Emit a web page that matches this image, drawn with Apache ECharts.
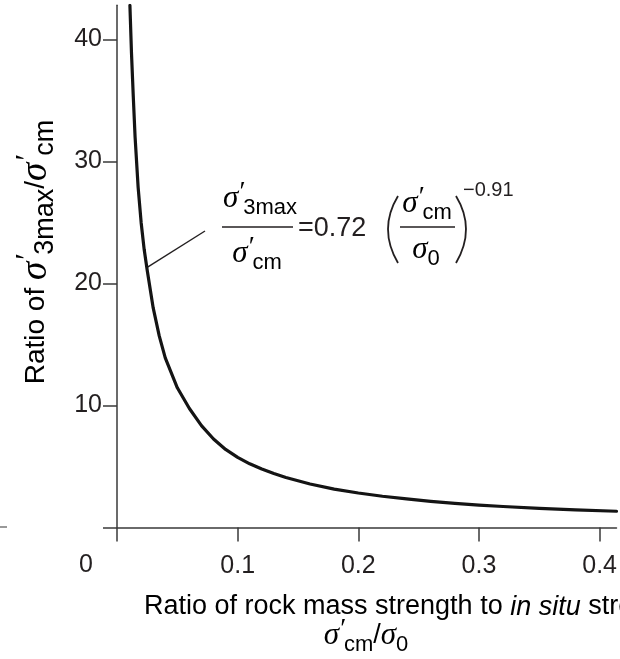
<!DOCTYPE html>
<html><head><meta charset="utf-8">
<script src="https://cdn.jsdelivr.net/npm/echarts@6/dist/echarts.min.js"></script>
<style>html,body{margin:0;padding:0;background:#fff}#c{width:620px;height:659px}</style>
</head><body><div id="c"></div>
<script>
// ---- data ----
const xValues = [0.0107, 0.012, 0.0135, 0.015, 0.0175, 0.02, 0.0225, 0.025, 0.03, 0.035, 0.04, 0.05, 0.06, 0.07, 0.08, 0.09, 0.10, 0.11, 0.12, 0.13, 0.14, 0.16, 0.18, 0.20, 0.22, 0.24, 0.26, 0.28, 0.30, 0.32, 0.35, 0.38, 0.414];
const yValues = [42.8, 38.9, 35.3, 32.0, 27.9, 25.0, 22.8, 21.1, 18.0, 15.7, 13.9, 11.45, 9.75, 8.35, 7.25, 6.40, 5.75, 5.22, 4.79, 4.42, 4.10, 3.57, 3.15, 2.83, 2.56, 2.34, 2.14, 1.97, 1.83, 1.72, 1.57, 1.45, 1.33];
const xTicks = [0, 0.1, 0.2, 0.3, 0.4];
const xTickLabels = [0.1, 0.2, 0.3, 0.4];
const yTicks = [0, 10, 20, 30, 40];
const yTickLabels = [10, 20, 30, 40];
const xMax = 0.414;
const yMax = 42.8;
const leaderPoint = [0.0247, 21.3];
const coefText = '=0.72';
const expText = '\u22120.91';

const SANS = '"Liberation Sans", Arial, Helvetica, sans-serif';
const SERIF = '"Liberation Serif", "DejaVu Serif", serif';
const INK = '#231f20';
const AX = '#3a3a3a';

const rich = {
  t: {fontFamily: SANS, fontSize: 27, color: INK, lineHeight: 40, verticalAlign: 'middle'},
  i: {fontFamily: SANS, fontSize: 27, color: INK, fontStyle: 'italic', lineHeight: 40, verticalAlign: 'middle'},
  s: {fontFamily: SERIF, fontSize: 31, color: INK, fontStyle: 'italic', lineHeight: 40, verticalAlign: 'middle'},
  p: {fontFamily: SERIF, fontSize: 28, color: INK, fontStyle: 'italic', lineHeight: 28, verticalAlign: 'top', width: 5},
  b: {fontFamily: SANS, fontSize: 22, color: INK, lineHeight: 27, verticalAlign: 'bottom'},
  // larger variants for the rotated y-axis title
  ys: {fontFamily: SERIF, fontSize: 37, color: INK, fontStyle: 'italic', lineHeight: 46, verticalAlign: 'middle'},
  yp: {fontFamily: SERIF, fontSize: 31, color: INK, fontStyle: 'italic', lineHeight: 31, verticalAlign: 'top', width: 7},
  yb: {fontFamily: SANS, fontSize: 27, color: INK, lineHeight: 31, verticalAlign: 'bottom'},
  yt: {fontFamily: SANS, fontSize: 28, color: INK, lineHeight: 46, verticalAlign: 'middle'}
};

const chart = echarts.init(document.getElementById('c'), null, {renderer: 'canvas'});
const data = xValues.map((x, k) => [x, yValues[k]]);

const option = {
  animation: false,
  backgroundColor: '#fff',
  grid: {left: 117, right: 0, top: 5.3, bottom: 131.5, containLabel: false},
  xAxis: {
    type: 'value', min: 0, max: xMax,
    splitLine: {show: false},
    axisLine: {show: true, onZero: false, lineStyle: {color: AX, width: 1.5}},
    axisTick: {show: true, inside: false, length: 14, customValues: xTicks, lineStyle: {color: AX, width: 1.5}},
    axisLabel: {customValues: xTickLabels, formatter: v => Number(v).toFixed(1), fontFamily: SANS, fontSize: 25, color: INK, margin: 26}
  },
  yAxis: {
    type: 'value', min: 0, max: yMax,
    splitLine: {show: false},
    axisLine: {show: true, onZero: false, lineStyle: {color: AX, width: 1.5}},
    axisTick: {show: true, inside: false, length: 14, customValues: yTicks, lineStyle: {color: AX, width: 1.5}},
    axisLabel: {customValues: yTickLabels, formatter: v => String(v), fontFamily: SANS, fontSize: 25, color: INK, margin: 15}
  },
  series: [{
    type: 'line', data: data, showSymbol: false, smooth: false, silent: true,
    lineStyle: {color: '#141414', width: 3.2, join: 'round', cap: 'round'}
  }]
};
chart.setOption(option);

const lp = chart.convertToPixel({gridIndex: 0}, leaderPoint);

chart.setOption({
  graphic: [
    // origin label
    {type: 'text', x: 86, y: 565, style: {text: '0', font: '25px ' + SANS, fill: INK, align: 'center', verticalAlign: 'middle'}},
    // y axis title
    {type: 'text', x: 36, y: 252, rotation: Math.PI / 2,
     style: {text: '{yt|Ratio of }{ys|σ}{yp|′}{yb|3max}{yt|/}{ys|σ}{yp|′}{yb|cm}', rich: rich, align: 'center', verticalAlign: 'middle'}},
    // x axis title
    {type: 'text', x: 144, y: 607,
     style: {text: '{t|Ratio of rock mass strength to }{i|in situ}{t| stress}', rich: rich, align: 'left', verticalAlign: 'middle'}},
    {type: 'text', x: 366, y: 636,
     style: {text: '{s|σ}{p|′}{b|cm}{t|/}{s|σ}{b|0}', rich: rich, align: 'center', verticalAlign: 'middle'}},
    // leader line
    {type: 'line', shape: {x1: lp[0], y1: lp[1], x2: 205, y2: 231}, style: {stroke: INK, lineWidth: 1.4}},
    // formula: left fraction
    {type: 'text', x: 260, y: 199, style: {text: '{s|σ}{p|′}{b|3max}', rich: rich, align: 'center', verticalAlign: 'middle'}},
    {type: 'line', shape: {x1: 222, y1: 227, x2: 293, y2: 227}, style: {stroke: INK, lineWidth: 1.5}},
    {type: 'text', x: 257, y: 254, style: {text: '{s|σ}{p|′}{b|cm}', rich: rich, align: 'center', verticalAlign: 'middle'}},
    {type: 'text', x: 298, y: 229, style: {text: coefText, font: '27px ' + SANS, fill: INK, align: 'left', verticalAlign: 'middle'}},
    // parentheses
    {type: 'bezierCurve', shape: {x1: 398, y1: 196, cpx1: 378, cpy1: 229, x2: 398, y2: 263}, style: {stroke: INK, lineWidth: 1.8, fill: null}},
    {type: 'bezierCurve', shape: {x1: 456, y1: 196, cpx1: 476, cpy1: 229, x2: 456, y2: 263}, style: {stroke: INK, lineWidth: 1.8, fill: null}},
    // inner fraction
    {type: 'text', x: 427, y: 204, style: {text: '{s|σ}{p|′}{b|cm}', rich: rich, align: 'center', verticalAlign: 'middle'}},
    {type: 'line', shape: {x1: 400, y1: 227, x2: 455, y2: 227}, style: {stroke: INK, lineWidth: 1.5}},
    {type: 'text', x: 426, y: 250, style: {text: '{s|σ}{b|0}', rich: rich, align: 'center', verticalAlign: 'middle'}},
    // exponent
    {type: 'text', x: 463, y: 190, style: {text: expText, font: '20px ' + SANS, fill: INK, align: 'left', verticalAlign: 'middle'}},
    // fragment of neighbouring figure at left edge
    {type: 'line', shape: {x1: 0, y1: 527, x2: 7, y2: 527}, style: {stroke: '#777', lineWidth: 1.5}}
  ]
});
</script>
</body></html>
